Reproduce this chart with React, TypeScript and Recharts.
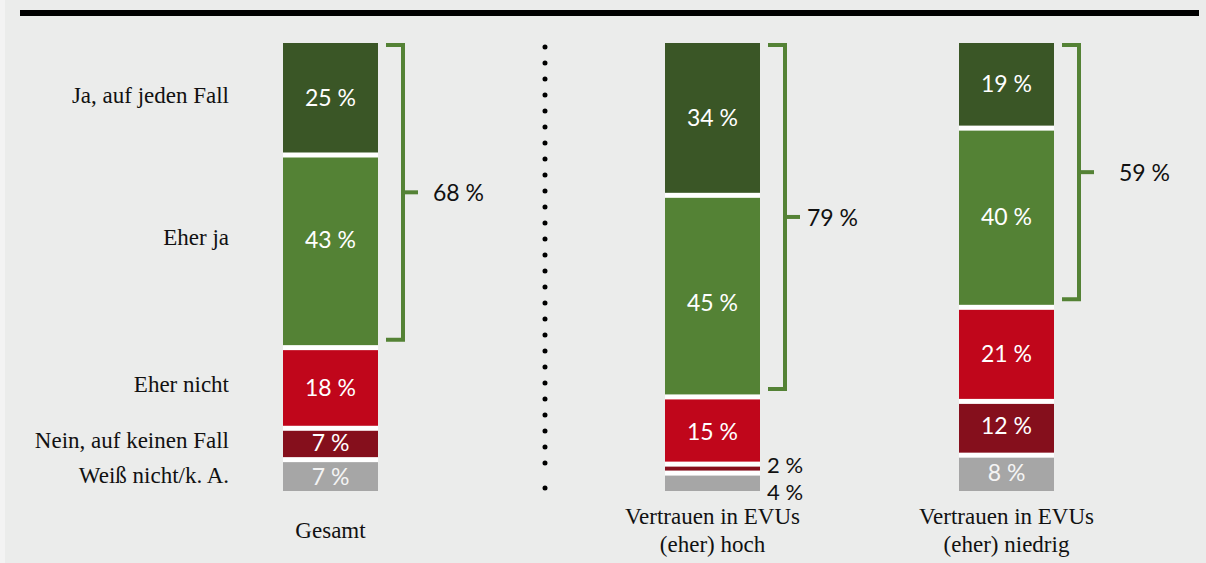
import React from 'react';
import { BarChart, Bar, XAxis, YAxis, LabelList } from 'recharts';

// groups (x categories)
const groups = ['Gesamt', 'Vertrauen in EVUs (eher) hoch', 'Vertrauen in EVUs (eher) niedrig'];
const groupLines = [['Gesamt'], ['Vertrauen in EVUs', '(eher) hoch'], ['Vertrauen in EVUs', '(eher) niedrig']];

// answers, top of the stack first
const answers = ['Ja, auf jeden Fall', 'Eher ja', 'Eher nicht', 'Nein, auf keinen Fall', 'Weiß nicht/k. A.'];
const jaAufJedenFall = [25, 34, 19];
const eherJa = [43, 45, 40];
const eherNicht = [18, 15, 21];
const neinAufKeinenFall = [7, 2, 12];
const weissNicht = [7, 4, 8];

const seriesKeys = ['ja', 'eherJa', 'eherNicht', 'nein', 'weissNicht'];
const seriesValues = [jaAufJedenFall, eherJa, eherNicht, neinAufKeinenFall, weissNicht];
const totals = jaAufJedenFall.map((v, i) => v + eherJa[i]);

// styling / layout
const colors = ['#3a5626', '#548235', '#c0061b', '#850f1c', '#a6a6a6'];
const bracketColor = '#548235';
const W = 1206;
const H = 563;
const PLOT_TOP = 43;
const AXIS_H = 72;
const panels = [
  { left: 0, width: 661 },
  { left: 546, width: 333 },
  { left: 807, width: 399 },
];
const totalGap = [30, 22, 40];
const sideNudge = [-4, -14, -3, -3, 0];
// small vertical tweaks of the in-bar labels, per panel and series
const valueNudge = [
  [-2, -12, -1, -2, 1],
  [-2, 6, 0, -4, 9],
  [-3, -2, -1, -3, -1],
];
const SANS = 'Lato, "Open Sans", sans-serif';
const SERIF = '"Liberation Serif", "DejaVu Serif", serif';

const rowFor = (g: number) => {
  const r: any = { name: groups[g] };
  seriesKeys.forEach((k, s) => (r[k] = seriesValues[s][g]));
  return r;
};

const boxOf = (p: any) => {
  const vb = p.viewBox || {};
  return {
    x: Number(vb.x ?? p.x),
    y: Number(vb.y ?? p.y),
    width: Number(vb.width ?? p.width),
    height: Number(vb.height ?? p.height),
  };
};

const Segment = (props: any) => {
  const { x, y, width, height, fill, sep } = props;
  if (!height) return null;
  return (
    <g>
      <rect x={x} y={y} width={width} height={height} fill={fill} />
      {sep && <rect x={x} y={y + height - 2.5} width={width} height={5} fill="#ffffff" />}
    </g>
  );
};

const makeValueLabel = (g: number, s: number) => (props: any) => {
  const { x, y, width, height } = boxOf(props);
  const v = props.value;
  const cy = y + height / 2 + valueNudge[g][s];
  if (v < 5) {
    return (
      <text x={x + width + 7} y={cy} dominantBaseline="central"
        fontFamily={SANS} fontSize={22} fill="#111">{v} %</text>
    );
  }
  return (
    <text x={x + width / 2} y={cy} textAnchor="middle" dominantBaseline="central"
      fontFamily={SANS} fontSize={23} fill={s === 4 ? '#f4f4f4' : '#fff'}>{v} %</text>
  );
};

const makeSideLabel = (s: number) => (props: any) => {
  const { x, y, height } = boxOf(props);
  return (
    <text x={x - 54} y={y + height / 2 + sideNudge[s]} textAnchor="end" dominantBaseline="central"
      fontFamily={SERIF} fontSize={23} fill="#111">{answers[s]}</text>
  );
};

const makeBracket = (g: number) => (props: any) => {
  const { x, y, width, height } = boxOf(props);
  const ppu = height / jaAufJedenFall[g];
  const top = y + 2;
  const bottom = y + totals[g] * ppu - 8;
  const vx = x + width + 25;
  const arm = x + width + 8;
  const mid = (top + bottom) / 2;
  return (
    <g>
      <path d={`M${arm},${top} H${vx} V${bottom} H${arm}`} fill="none" stroke={bracketColor} strokeWidth={4} />
      <line x1={vx} y1={mid} x2={vx + 15} y2={mid} stroke={bracketColor} strokeWidth={4} />
      <text x={vx + totalGap[g]} y={mid} dominantBaseline="central" fontFamily={SANS} fontSize={23} fill="#111">
        {totals[g]} %
      </text>
    </g>
  );
};

const GroupTick = (props: any) => {
  const { x, y, payload } = props;
  const lines = groupLines[groups.indexOf(payload.value)] || [payload.value];
  return (
    <g>
      {lines.map((l, i) => (
        <text key={i} x={x} y={y + 47 + (i - (lines.length - 1) / 2) * 28} textAnchor="middle"
          fontFamily={SERIF} fontSize={23} fill="#111">{l}</text>
      ))}
    </g>
  );
};

const stackOrder = [4, 3, 2, 1, 0];

const Panel = ({ g }: { g: number }) => {
  const p = panels[g];
  return (
    <div style={{ position: 'absolute', left: p.left, top: 0 }}>
      <BarChart width={p.width} height={H} data={[rowFor(g)]} barSize={95}
        margin={{ top: PLOT_TOP, right: 0, bottom: 0, left: 0 }}>
        <XAxis dataKey="name" height={AXIS_H} axisLine={false} tickLine={false} tickSize={0} tickMargin={0}
          interval={0} tick={<GroupTick />} />
        <YAxis hide domain={[0, 100]} />
        {stackOrder.map((s) => (
          <Bar key={seriesKeys[s]} dataKey={seriesKeys[s]} stackId="a" fill={colors[s]} isAnimationActive={false}
            shape={(sp: any) => <Segment {...sp} sep={s !== 4} />}>
            <LabelList dataKey={seriesKeys[s]} content={makeValueLabel(g, s)} />
            {g === 0 && <LabelList dataKey={seriesKeys[s]} content={makeSideLabel(s)} />}
            {s === 0 && <LabelList dataKey={seriesKeys[s]} content={makeBracket(g)} />}
          </Bar>
        ))}
      </BarChart>
    </div>
  );
};

export default function App() {
  return (
    <div style={{ position: 'relative', width: W, height: H, background: '#ebeceb', overflow: 'hidden' }}>
      <style>{'body{margin:0}'}</style>
      <div style={{ position: 'absolute', left: 0, top: 0, width: 5, height: H, background: '#f3f3f3' }} />
      <div style={{ position: 'absolute', left: 20, top: 10, width: 1179, height: 6, background: '#000' }} />
      {groups.map((_, g) => <Panel key={g} g={g} />)}
      <svg style={{ position: 'absolute', left: 0, top: 0 }} width={W} height={H}>
        <line x1={545} y1={47} x2={545} y2={479} stroke="#000" strokeWidth={5} strokeLinecap="round" strokeDasharray="0 16" />
        <circle cx={545} cy={488} r={2.5} fill="#000" />
      </svg>
    </div>
  );
}
